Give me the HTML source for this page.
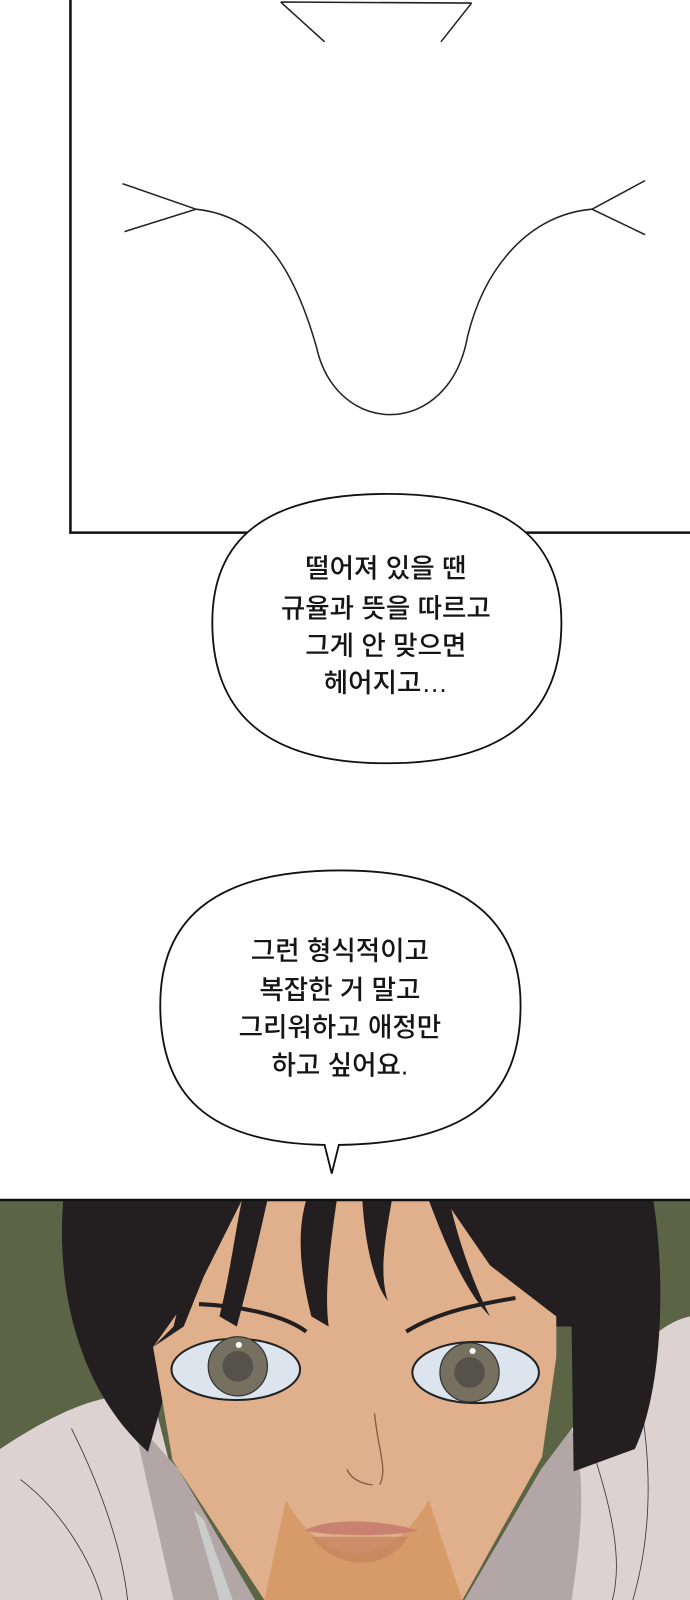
<!DOCTYPE html>
<html><head><meta charset="utf-8"><style>
html,body{margin:0;padding:0;background:#fff;}
svg{display:block;}
text{font-family:"Liberation Sans","Noto Sans CJK KR",sans-serif;font-size:26px;font-weight:500;fill:#151515;text-anchor:middle;}
</style></head><body>
<svg width="690" height="1600" viewBox="0 0 676 1568" xmlns="http://www.w3.org/2000/svg" preserveAspectRatio="none">
<rect width="676" height="1568" fill="#fff"/>
<g fill="none" stroke="#222" stroke-width="1.5">
<path d="M275,2 L462,3 M275,2 L318,41 M462,3 L432,41"/>
<path d="M120,180 L192,205 L122,227"/>
<path d="M192,205 C260,212 290,270 310,340 C330,430 440,430 458,330 C475,260 520,210 580,205"/>
<path d="M632,177 L580,205 L632,230"/>
</g>
<path d="M69,0 L69,522 L676,522" fill="none" stroke="#111" stroke-width="2.5"/>
<path d="M379,484 C505,484 550,535 550,610 C550,700 495,748 379,748 C262,748 208,700 208,610 C208,530 258,484 379,484Z" fill="#fff" stroke="#111" stroke-width="1.8"/>
<text x="378" y="566">떨어져 있을 땐</text>
<text x="378" y="605">규율과 뜻을 따르고</text>
<text x="378" y="642">그게 안 맞으면</text>
<text x="378" y="678">헤어지고…</text>
<path d="M334,853 C465,853 510,910 510,985 C510,1075 460,1120 332,1122 L325,1150 L318,1122 C200,1120 157,1070 157,985 C157,905 205,853 334,853Z" fill="#fff" stroke="#111" stroke-width="1.8"/>
<text x="333" y="941">그런 형식적이고</text>
<text x="333" y="979">복잡한 거 말고</text>
<text x="333" y="1016">그리워하고 애정만</text>
<text x="333" y="1053">하고 싶어요.</text>
<rect x="0" y="1176" width="676" height="392" fill="#5c6446"/>
<path d="M0,1420 C60,1380 110,1360 150,1370 L200,1568 L0,1568Z" fill="#ddd2d2"/>
<path d="M676,1290 L676,1568 L480,1568 L560,1400 C600,1360 630,1300 676,1290Z" fill="#ddd2d2"/>
<path d="M130,1390 L175,1440 L250,1568 L170,1568Z" fill="#b2a6a6"/>
<path d="M560,1400 L530,1440 L455,1568 L560,1568 C570,1500 575,1450 560,1400Z" fill="#b2a6a6"/>
<path d="M190,1480 L215,1568 L228,1568 L200,1490Z" fill="#c9cccb"/>
<g fill="none" stroke="#333" stroke-width="0.8">
<path d="M20,1450 C60,1480 90,1530 100,1568"/><path d="M70,1400 C100,1460 120,1520 125,1568"/>
<path d="M620,1340 C640,1420 640,1500 620,1568"/><path d="M580,1420 C600,1480 610,1530 600,1568"/>
</g>
<path d="M62,1176 L640,1176 C652,1250 650,1360 622,1420 L562,1442 L560,1300 L180,1300 L145,1423 C75,1360 55,1260 62,1176Z" fill="#231f20"/>
<path d="M237,1176 L436,1176 L480,1240 L545,1290 L545,1330 L531,1428 L453,1568 L259,1568 L169,1431 L150,1320 L200,1250Z" fill="#dfb08b"/>
<path d="M280,1470 C320,1540 380,1540 420,1470 L453,1568 L259,1568Z" fill="#d3935c" opacity="0.7"/>
<g fill="#231f20">
<path d="M237,1176 L262,1176 C250,1230 240,1270 232,1300 L215,1290 C225,1250 230,1210 237,1176Z"/>
<path d="M300,1176 L330,1176 C322,1230 318,1270 322,1300 L305,1290 C295,1250 290,1210 300,1176Z"/>
<path d="M355,1176 L384,1176 C376,1220 372,1250 380,1275 C368,1260 358,1225 355,1176Z"/>
<path d="M420,1176 L440,1176 C450,1220 465,1260 480,1290 C460,1270 440,1230 420,1176Z"/>
<path d="M436,1176 L500,1200 L545,1290 L560,1300 L545,1176Z"/>
<path d="M200,1250 L237,1176 L200,1176 L170,1300 L150,1320 L180,1300Z"/>
</g>
<path d="M195,1278 C240,1280 280,1290 300,1305" stroke="#231f20" stroke-width="4" fill="none"/>
<path d="M398,1305 C430,1285 470,1278 505,1272" stroke="#231f20" stroke-width="4" fill="none"/>
<ellipse cx="231" cy="1342" rx="63" ry="30" fill="#dce4ee" stroke="#222" stroke-width="2"/>
<circle cx="233" cy="1339" r="29" fill="#75705f" stroke="#333" stroke-width="1.2"/>
<circle cx="233" cy="1339" r="15" fill="#55524a"/>
<circle cx="234" cy="1318" r="3" fill="#fff"/>
<ellipse cx="466" cy="1345" rx="62" ry="30" fill="#dce4ee" stroke="#222" stroke-width="2"/>
<circle cx="460" cy="1345" r="29" fill="#75705f" stroke="#333" stroke-width="1.2"/>
<circle cx="460" cy="1345" r="15" fill="#55524a"/>
<circle cx="463" cy="1324" r="3" fill="#fff"/>
<path d="M367,1385 C370,1420 380,1440 372,1455 M340,1440 C345,1452 360,1455 365,1455" stroke="#8a5a3a" stroke-width="1.3" fill="none"/>
<path d="M298,1500 C320,1488 370,1488 410,1500 C380,1506 330,1506 298,1500Z" fill="#c98272"/>
<path d="M305,1506 C330,1540 380,1540 400,1506Z" fill="#c7865f" opacity="0.8"/>
<line x1="0" y1="1176" x2="676" y2="1176" stroke="#111" stroke-width="2.5"/>
</svg>
</body></html>
